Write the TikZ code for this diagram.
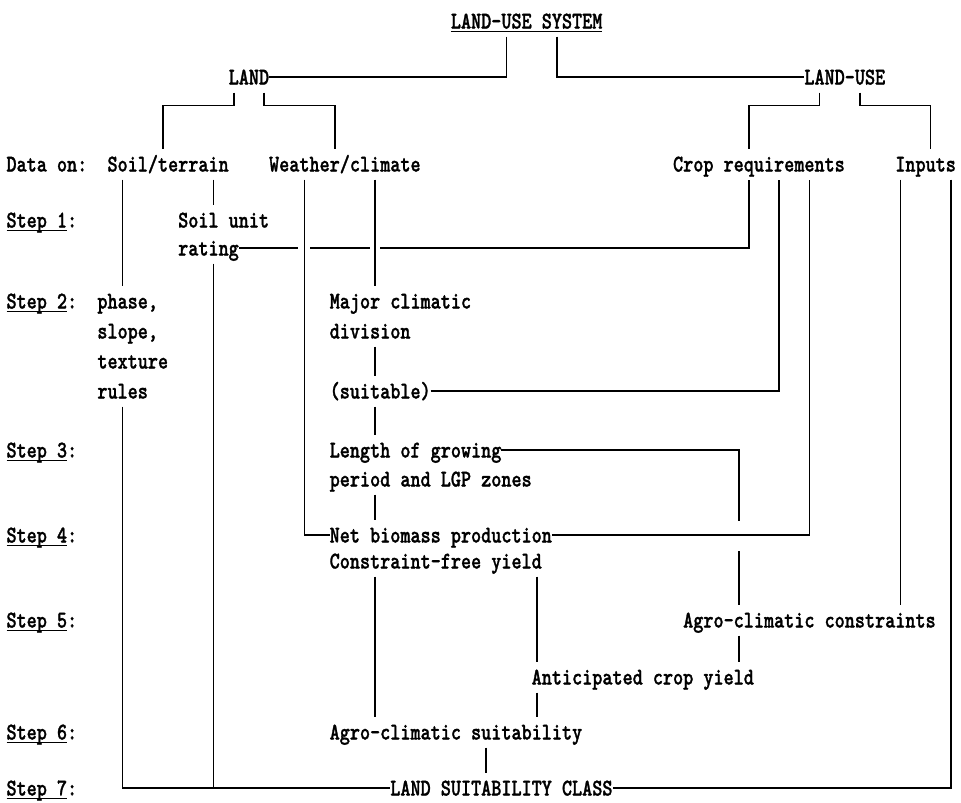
\documentclass[tikz,border=0pt]{standalone}
\usepackage{fontspec}
\usetikzlibrary{calc}
\newfontfamily\tw{lmmonolt10-bold.otf}[FakeStretch=0.8016,FakeBold=1.2]
\newcommand\ulbox[1]{\setbox0\hbox{#1}\rlap{\rule[-3.5pt]{\wd0}{1.5pt}}\box0}
\newcommand\cl[1]{6.5+10.1*#1}
\begin{document}
\begin{tikzpicture}[x=1pt,y=-1pt,
  txt/.style={font=\tw\fontsize{24}{28}\selectfont, inner sep=0pt, outer xsep=0pt, outer ysep=8pt,
              text height=15pt, text depth=0pt, anchor=west},
  conn/.style={line width=1.6pt}]
\useasboundingbox (0,0) rectangle (961,803);
\foreach \c in {11,15,20,22,25,29,32,36,47,49,52,54,72,73,76,79,80,84,88,91,93}
  \coordinate (X\c) at ({6.5+10.1*(\c+0.5)},0);
% top
\node[txt] (sys) at ({\cl{44}},21) {\ulbox{LAND-USE SYSTEM}};
\node[txt] (land) at ({\cl{22}},77) {LAND};
\node[txt] (landuse) at ({\cl{79}},77) {LAND-USE};
% data row
\node[txt] (dataon) at ({\cl{0}},164) {Data on:};
\node[txt] (soil) at ({\cl{10}},164) {Soil/terrain};
\node[txt] (weather) at ({\cl{26}},164) {Weather/climate};
\node[txt] (crop) at ({\cl{66}},164) {Crop requirements};
\node[txt] (inputs) at ({\cl{88}},164) {Inputs};
% step labels
\node[txt] (step1) at ({\cl{0}},220) {\ulbox{Step 1}:};
\node[txt] (step2) at ({\cl{0}},301) {\ulbox{Step 2}:};
\node[txt] (step3) at ({\cl{0}},450) {\ulbox{Step 3}:};
\node[txt] (step4) at ({\cl{0}},535) {\ulbox{Step 4}:};
\node[txt] (step5) at ({\cl{0}},620) {\ulbox{Step 5}:};
\node[txt] (step6) at ({\cl{0}},732) {\ulbox{Step 6}:};
\node[txt] (step7) at ({\cl{0}},788) {\ulbox{Step 7}:};
% content
\node[txt] (sur1) at ({\cl{17}},220) {Soil unit};
\node[txt] (sur2) at ({\cl{17}},248) {rating};
\node[txt] (ph1) at ({\cl{9}},301) {phase,};
\node[txt] (ph2) at ({\cl{9}},331) {slope,};
\node[txt] (ph3) at ({\cl{9}},361) {texture};
\node[txt] (ph4) at ({\cl{9}},391) {rules};
\node[txt] (mc1) at ({\cl{32}},301) {Major climatic};
\node[txt] (mc2) at ({\cl{32}},331) {division};
\node[txt] (suit) at ({\cl{32}},391) {(suitable)};
\node[txt] (lgp1) at ({\cl{32}},450) {Length of growing};
\node[txt] (lgp2) at ({\cl{32}},479) {period and LGP zones};
\node[txt] (nbp) at ({\cl{32}},535) {Net biomass production};
\node[txt] (cfy) at ({\cl{32}},561) {Constraint-free yield};
\node[txt] (acc) at ({\cl{67}},620) {Agro-climatic constraints};
\node[txt] (acy) at ({\cl{52}},677) {Anticipated crop yield};
\node[txt] (acs) at ({\cl{32}},732) {Agro-climatic suitability};
\node[txt] (lsc) at ({\cl{38}},788) {LAND SUITABILITY CLASS};
% connectors
\draw[conn] (sys.south -| X49) |- (land.east);
\draw[conn] (sys.south -| X54) |- (landuse.west);
\draw[conn] (land.south -| X22) -- ++(0,13) -| (soil.north -| X15);
\draw[conn] (land.south -| X25) -- ++(0,13) -| (weather.north -| X32);
\draw[conn] (landuse.south -| X80) -- ++(0,13) -| (crop.north -| X73);
\draw[conn] (landuse.south -| X84) -- ++(0,13) -| (inputs.north -| X91);
\draw[conn] (soil.south -| X11) -- (ph1.north -| X11);
\draw[conn] (soil.south -| X20) -- (sur1.north -| X20);
\draw[conn] (ph4.south -| X11) |- (lsc.west);
\draw[conn] (sur2.south -| X20) -- (lsc.west -| X20);
\draw[conn] (sur2.east) -- ($(sur2.east -| X29)+(-6,0)$);
\draw[conn] ($(sur2.east -| X29)+(6,0)$) -- ($(sur2.east -| X36)+(-5,0)$);
\draw[conn] ($(sur2.east -| X36)+(5,0)$) -| (crop.south -| X73);
\draw[conn] (weather.south -| X29) |- (nbp.west);
\draw[conn] (weather.south -| X36) -- (mc1.north -| X36);
\draw[conn] (mc2.south -| X36) -- (suit.north -| X36);
\draw[conn] (suit.east) -| (crop.south -| X76);
\draw[conn] (suit.south -| X36) -- (lgp1.north -| X36);
\draw[conn] (lgp2.south -| X36) -- (nbp.north -| X36);
\draw[conn] (nbp.east) -| (crop.south -| X79);
\draw[conn] (lgp1.east) -| ($(nbp.east -| X72)+(0,-14)$);
\draw[conn] ($(nbp.east -| X72)+(0,16)$) -- (acc.north -| X72);
\draw[conn] (inputs.south -| X88) -- (acc.north -| X88);
\draw[conn] (inputs.south -| X93) |- (lsc.east);
\draw[conn] (cfy.south -| X36) -- (acs.north -| X36);
\draw[conn] (cfy.south -| X52) -- (acy.north -| X52);
\draw[conn] (acc.south -| X72) -- (acy.north -| X72);
\draw[conn] (acy.south -| X52) -- (acs.north -| X52);
\draw[conn] (acs.south -| X47) -- (lsc.north -| X47);
\end{tikzpicture}
\end{document}
